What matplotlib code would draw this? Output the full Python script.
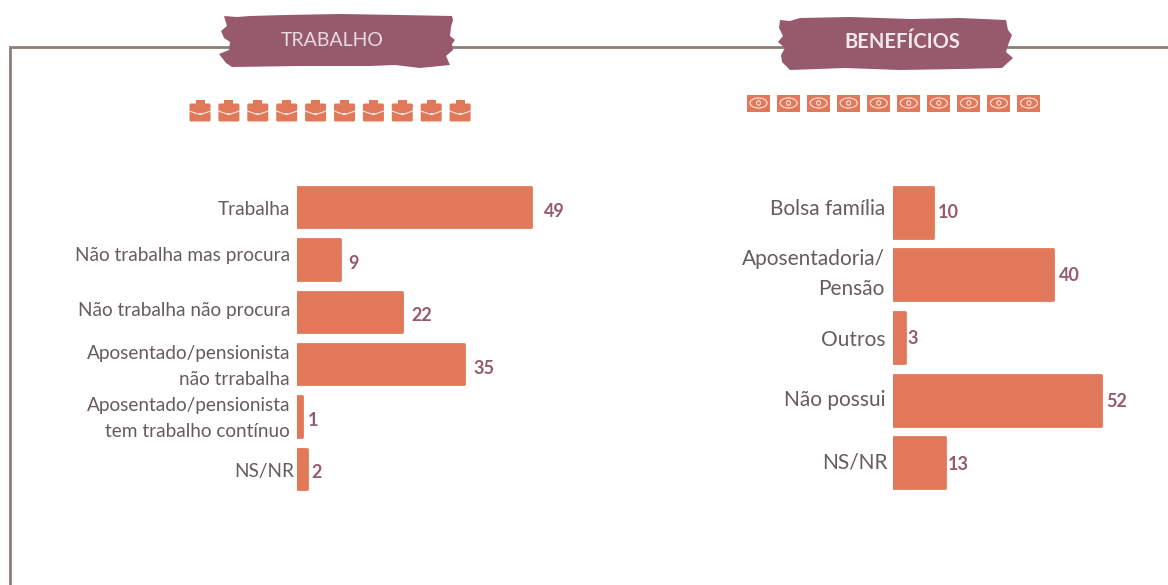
import matplotlib
matplotlib.use('Agg')
import matplotlib.pyplot as plt
from matplotlib.patches import Polygon, Rectangle, FancyBboxPatch, Ellipse

plt.rcParams['font.family'] = ['Lato', 'DejaVu Sans']

trabalho_labels = ['Trabalha', 'Não trabalha mas procura', 'Não trabalha não procura',
                   'Aposentado/pensionista\nnão trrabalha', 'Aposentado/pensionista\ntem trabalho contínuo', 'NS/NR']
trabalho_values = [49, 9, 22, 35, 1, 2]
beneficios_labels = ['Bolsa família', 'Aposentadoria/\nPensão', 'Outros', 'Não possui', 'NS/NR']
beneficios_values = [10, 40, 3, 52, 13]

W, H = 1168, 585
BAR = '#e2785a'
WINE = '#975a6c'
LINE = '#8c7d76'
TEXT = '#645c5f'

fig = plt.figure(figsize=(W / 100, H / 100), dpi=100, facecolor='white')

# background layer in pixels, for the frame, banners and icons
bg = fig.add_axes([0, 0, 1, 1])
bg.set_xlim(0, W)
bg.set_ylim(H, 0)
bg.axis('off')

bg.plot([10, 10, W], [H, 47, 47], color=LINE, lw=2, solid_joinstyle='miter')

banner1 = [(224, 16), (237, 17), (250, 16), (285, 15), (340, 14), (400, 15), (452, 16), (453, 20), (451, 27),
           (450, 36), (455, 40), (452, 44), (453, 50), (446, 56), (450, 65), (420, 68), (395, 65), (370, 66), (300, 66),
           (232, 67), (226, 63), (219, 54), (229, 50), (230, 42), (224, 38), (221, 31), (227, 26)]
banner2 = [(780, 20), (790, 21), (800, 18), (850, 17), (910, 19), (960, 18), (1006, 20), (1008, 30), (1012, 35),
           (1008, 45), (1006, 52), (1013, 58), (1002, 68), (960, 69), (900, 70), (845, 68), (790, 70),
           (782, 62), (781, 55), (785, 48), (778, 42), (783, 36), (779, 28)]
bg.add_patch(Polygon(banner1, closed=True, fc=WINE, ec='none', zorder=3))
bg.add_patch(Polygon(banner2, closed=True, fc=WINE, ec='none', zorder=3))
bg.text(332, 40, 'TRABALHO', color='#e6dce0', fontsize=14, ha='center', va='center', zorder=4)
bg.text(902, 41.5, 'BENEFÍCIOS', color='#f0e9eb', fontsize=14.5, ha='center', va='center', zorder=4,
        fontweight='bold')

# briefcase icons
for i in range(10):
    x = 189 + i * 28.9
    bg.add_patch(Rectangle((x + 6.5, 100), 9, 4, fc=BAR, ec='none'))
    bg.add_patch(FancyBboxPatch((x + 0.5, 103.5), 21, 18, boxstyle='round,pad=0,rounding_size=1.5', fc=BAR, ec='none'))
    bg.plot([x + 0.5, x + 9, x + 13, x + 21.5], [111, 114, 114, 111], color='#fbe6de', lw=0.8)
    bg.add_patch(Rectangle((x + 9.5, 112.5), 3, 2.5, fc='#fbe6de', ec='none'))

# banknote icons
for i in range(10):
    x = 747 + i * 30.05
    bg.add_patch(Rectangle((x, 94.5), 23, 17, fc=BAR, ec='none'))
    bg.add_patch(Ellipse((x + 11.5, 103), 17, 10, fc='none', ec='#fbe6de', lw=0.8))
    bg.add_patch(Ellipse((x + 11.5, 103), 4, 4.5, fc='none', ec='#fbe6de', lw=0.8))


def draw_bars(labels, values, x0, x1, xmax, top, bottom, height, value_pad, value_dy, label_dx, label_dy, label_size):
    ax = fig.add_axes([x0 / W, 1 - bottom / H, (x1 - x0) / W, (bottom - top) / H])
    ax.patch.set_alpha(0)
    pos = list(range(len(values)))
    ax.barh(pos, values, height=height, color=BAR, edgecolor=BAR, lw=2, joinstyle='round')
    ax.set_xlim(0, xmax)
    ax.set_ylim(len(values) - 0.5, -0.5)
    ax.set_xticks([])
    ax.set_yticks([])
    for s in ax.spines.values():
        s.set_visible(False)
    for p, v, lab, dx, dy, vdy, vdx in zip(pos, values, labels, label_dx, label_dy, value_dy, value_pad):
        ax.annotate(lab, (0, p), xytext=(dx, -dy), textcoords='offset pixels', va='center', ha='right',
                    color=TEXT, fontsize=label_size, linespacing=1.65, annotation_clip=False)
        ax.annotate(str(v), (v, p), xytext=(vdx, -vdy), textcoords='offset pixels', va='center', ha='left',
                    color=WINE, fontsize=13, fontweight='bold', annotation_clip=False)


draw_bars(trabalho_labels, trabalho_values, 297, 584, 60, 181, 495, 0.77, [13, 8, 9, 9, 6, 5],
          [4, 4, 4, 4, 4, 4], [-7, -7, -7, -7, -7, -3], [2, -4, -1, 2, 2, 3], 13.7)
draw_bars(beneficios_labels, beneficios_values, 893, 1132.6, 60, 181, 494, 0.815, [5, 6, 2, 6, 3],
          [0, 1, 1, 1, 2], [-8, -8, -8, -8, -5], [-3, -1, 2, 0, 0], 15)

fig.savefig('out.png', dpi=100)
